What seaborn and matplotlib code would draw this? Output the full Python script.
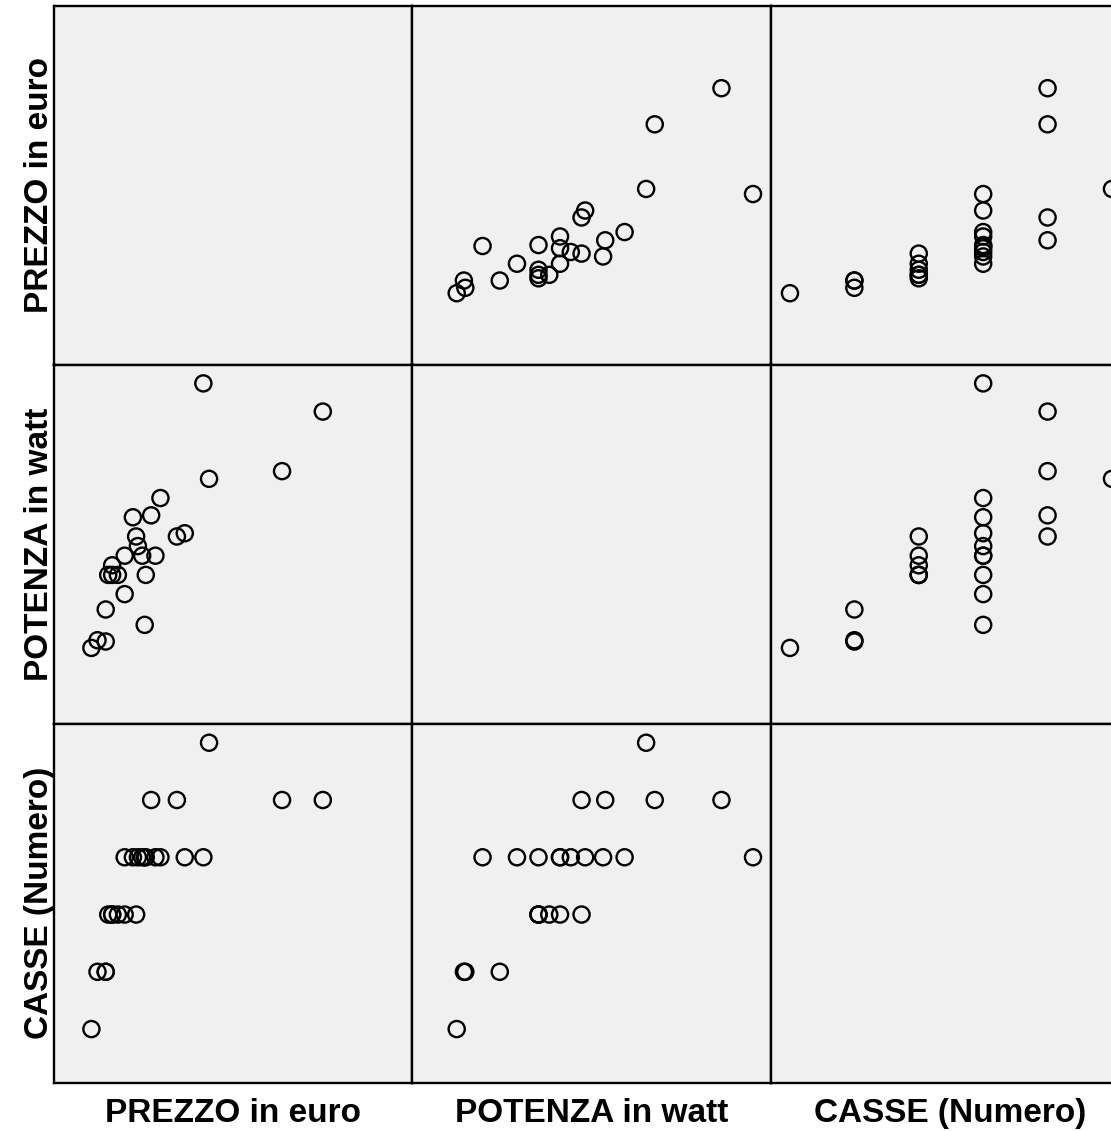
import pandas as pd
import matplotlib.pyplot as plt
import seaborn as sns

# values (25 products)
prezzo = [104, 144, 121, 144, 178, 162, 151, 162, 197, 229,
          417, 365, 297, 283, 253, 256, 246, 234, 220, 197,
          751, 637, 343, 271, 433]
potenza = [62, 72, 74, 122, 176, 176, 176, 191, 206, 236,
           475, 241, 296, 206, 98, 176, 206, 221, 266, 146,
           431, 338, 236, 269, 326]
casse = [1, 2, 2, 2, 3, 3, 3, 3, 3, 3,
         4, 4, 4, 4, 4, 4, 4, 4, 4, 4,
         5, 5, 5, 5, 6]

labels = ["PREZZO in euro", "POTENZA in watt", "CASSE (Numero)"]

df = pd.DataFrame({labels[0]: prezzo, labels[1]: potenza, labels[2]: casse})

sns.set_style("white", {"axes.facecolor": "#f0f0f0", "axes.edgecolor": "black",
                        "text.color": "black", "axes.labelcolor": "black"})
plt.rcParams['font.family'] = ['Liberation Sans', 'DejaVu Sans']

g = sns.PairGrid(df, vars=labels, height=3.7, despine=False)
g.map_offdiag(sns.scatterplot, s=135, facecolor="none", edgecolor="black",
              linewidth=1.7)

fig = g.figure
fig.set_size_inches(11.11, 11.31)
fig.subplots_adjust(left=53.5 / 1111, right=1129.7 / 1111,
                    top=1 - 5.5 / 1131, bottom=1 - 1082.5 / 1131,
                    wspace=0, hspace=0)

# axis ranges (no ticks shown, like the SPSS output)
xlims = [(-2, 1001), (0, 500), (0.705, 6.275)]
ylims = [(-121, 1012), (-56, 504.5), (0.067, 6.336)]
for i in range(3):
    for j in range(3):
        ax = g.axes[i, j]
        ax.set_xlim(xlims[j])
        ax.set_ylim(ylims[i])
        ax.set_xticks([])
        ax.set_yticks([])
        ax.set_facecolor("#f0f0f0")
        for sp in ax.spines.values():
            sp.set_color("black")
            sp.set_linewidth(1.7)
        ax.set_xlabel("")
        ax.set_ylabel("")

for k in range(3):
    ax = g.axes[k, 0]
    ax.set_ylabel(labels[k], fontsize=24, fontweight="bold", color="black")
    ax.yaxis.label.set_va("baseline")
    ax.yaxis.set_label_coords(-0.016, 0.5)
    ax = g.axes[2, k]
    ax.set_xlabel(labels[k], fontsize=24, fontweight="bold", color="black")
    ax.xaxis.label.set_va("baseline")
    ax.xaxis.set_label_coords(0.5, -0.11)

fig.savefig("out.png", dpi=100, facecolor="white")
